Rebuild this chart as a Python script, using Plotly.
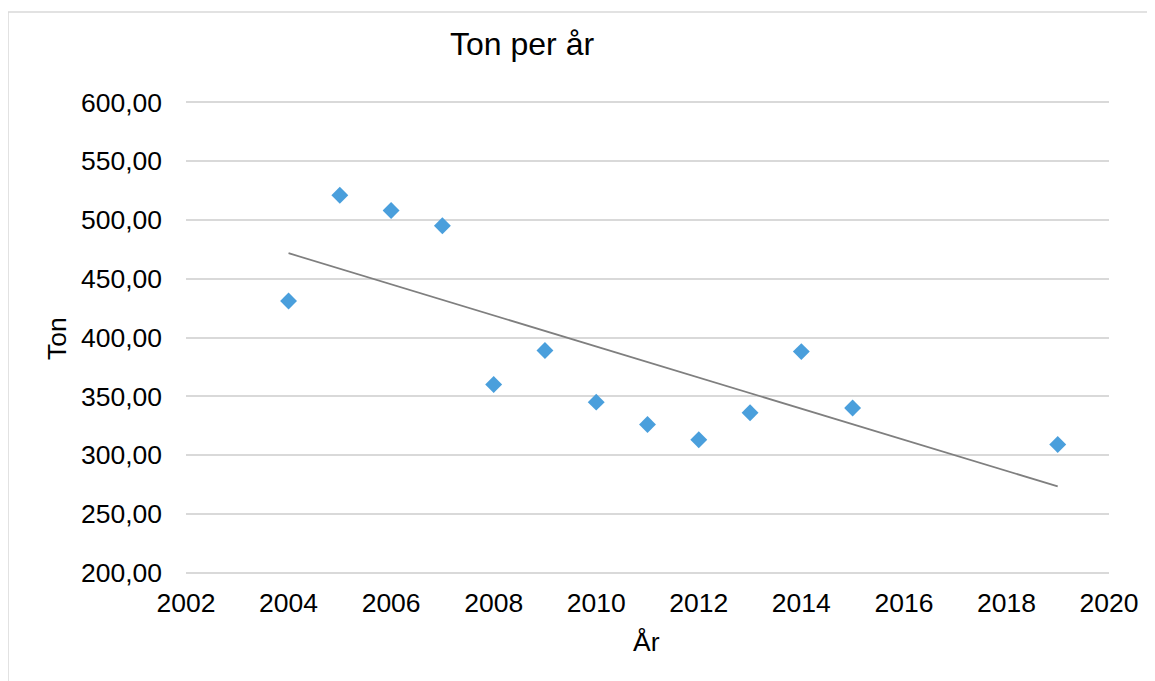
import numpy as np
import plotly.graph_objects as go

years = [2004, 2005, 2006, 2007, 2008, 2009, 2010, 2011, 2012, 2013, 2014, 2015, 2019]
tons = [431, 521, 508, 495, 360, 389, 345, 326, 313, 336, 388, 340, 309]

title_text = "Ton per år"
x_title = "År"
y_title = "Ton"

# Linear trendline (least squares), as in the spreadsheet chart
slope, intercept = np.polyfit(years, tons, 1)
trend_x = [min(years), max(years)]
trend_y = [slope * x + intercept for x in trend_x]

FONT = "Liberation Sans, Arial, sans-serif"

fig = go.Figure()
fig.add_trace(go.Scatter(
    x=trend_x, y=trend_y, mode="lines",
    line=dict(color="#7f7f7f", width=1.8),
    hoverinfo="skip", showlegend=False,
))
fig.add_trace(go.Scatter(
    x=years, y=tons, mode="markers",
    marker=dict(symbol="diamond", size=13, color="#4A9FDC", line=dict(width=0)),
    showlegend=False,
))

W, H = 1155, 681
OFF = 8  # page offset of the figure in the browser
# plot area in screen pixels, padded by 2 data units so edge gridlines are drawn
YMIN, YMAX = 198, 602
PX0, PX1 = 186, 1109
PY0, PY1 = 100, 575
L = PX0 - OFF
T = PY0 - OFF
R = W - L - (PX1 - PX0)
B = H - T - (PY1 - PY0)

def px_to_paper_x(px):
    return (px - PX0) / (PX1 - PX0)

def px_to_paper_y(py):
    return (PY1 - py) / (PY1 - PY0)

fig.update_layout(
    width=W, height=H,
    margin=dict(l=L, r=R, t=T, b=B, pad=0),
    paper_bgcolor="white", plot_bgcolor="white",
    font=dict(family=FONT, size=26.5, color="#000000"),
    separators=",.",
    showlegend=False,
    xaxis=dict(
        range=[2002, 2020], dtick=2, tick0=2002, tickformat="d",
        showgrid=False, zeroline=False, showline=False, ticks="",
        ticklabelstandoff=9,
        tickfont=dict(family=FONT, size=26.5, color="#000000"),
        fixedrange=True,
    ),
    yaxis=dict(
        range=[YMIN, YMAX], dtick=50, tick0=200, tickformat=".2f",
        showgrid=True, gridcolor="#d9d9d9", gridwidth=1.5,
        zeroline=False, showline=False, ticks="",
        ticklabelstandoff=23,
        tickfont=dict(family=FONT, size=26.5, color="#000000"),
        fixedrange=True,
    ),
    annotations=[
        dict(text=title_text, xref="paper", yref="paper",
             x=px_to_paper_x(522), y=px_to_paper_y(44),
             xanchor="center", yanchor="middle", showarrow=False,
             font=dict(family=FONT, size=32, color="#000000")),
        dict(text=x_title, xref="paper", yref="paper",
             x=px_to_paper_x(646), y=px_to_paper_y(642),
             xanchor="center", yanchor="middle", showarrow=False,
             font=dict(family=FONT, size=26.5, color="#000000")),
        dict(text=y_title, xref="paper", yref="paper",
             x=px_to_paper_x(57), y=px_to_paper_y(339),
             xanchor="center", yanchor="middle", showarrow=False, textangle=-90,
             font=dict(family=FONT, size=26.5, color="#000000")),
    ],
    shapes=[
        dict(type="rect", xref="paper", yref="paper",
             x0=px_to_paper_x(8), x1=px_to_paper_x(1180),
             y0=px_to_paper_y(710), y1=px_to_paper_y(12),
             line=dict(color="#d9d9d9", width=1.5), fillcolor="rgba(0,0,0,0)",
             layer="below"),
    ],
)

fig.write_html("out.html")
